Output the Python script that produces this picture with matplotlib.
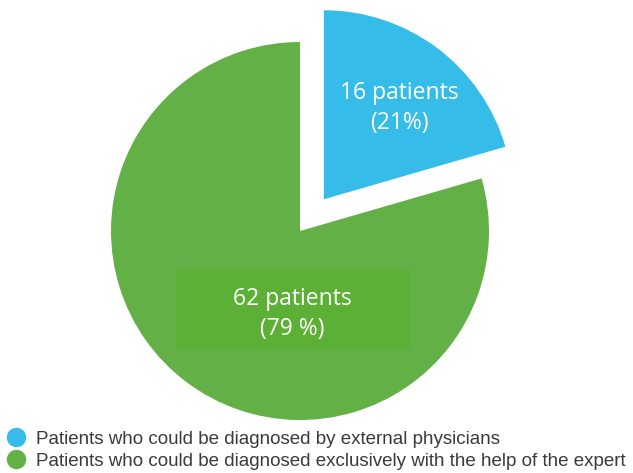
import matplotlib.pyplot as plt
from matplotlib.patches import Rectangle
from matplotlib.lines import Line2D

# patient counts per group
groups = ["Patients who could be diagnosed by external physicians",
          "Patients who could be diagnosed exclusively with the help of the expert"]
counts = [16, 62]
slice_labels = ["16 patients\n(21%)", "62 patients\n(79 %)"]
colors = ["#36bce8", "#63b146"]

W, H = 633, 473
fig = plt.figure(figsize=(W / 100, H / 100), dpi=100)
ax = fig.add_axes([0, 0, 1, 1])

cx, cy, r = 300, H - 231, 189
# explode is an absolute offset here, since the radius is in pixel units
wedges, _ = ax.pie(counts, colors=colors, startangle=90, counterclock=False,
                   explode=[0.21 * r, 0], center=(cx, cy), radius=r,
                   wedgeprops=dict(linewidth=0), frame=True)
ax.set_xlim(0, W)
ax.set_ylim(0, H)
ax.set_aspect("equal")
ax.axis("off")

# darker box behind the big slice label
ax.add_patch(Rectangle((177, H - 350), 233, 80, facecolor="#5cb036",
                       edgecolor="none", zorder=3))

lab_font = ["Open Sans", "DejaVu Sans"]
ax.text(399, H - 108, slice_labels[0], ha="center", va="center", color="white",
        fontsize=16.5, family=lab_font, linespacing=1.35, zorder=4)
ax.text(292, H - 314, slice_labels[1], ha="center", va="center", color="white",
        fontsize=16.5, family=lab_font, linespacing=1.35, zorder=4)

handles = [Line2D([], [], marker="o", linestyle="none", markersize=14,
                  markerfacecolor=c, markeredgecolor="none") for c in colors]
leg = ax.legend(handles, groups, loc="lower left", bbox_to_anchor=(0.0, -0.009),
                frameon=False, handletextpad=0.6, handlelength=0.9,
                labelspacing=0.25, borderaxespad=0.0,
                prop=dict(family="Liberation Sans", size=13.5))
for t in leg.get_texts():
    t.set_color("#3a3a3a")

fig.savefig("out.png", dpi=100)
